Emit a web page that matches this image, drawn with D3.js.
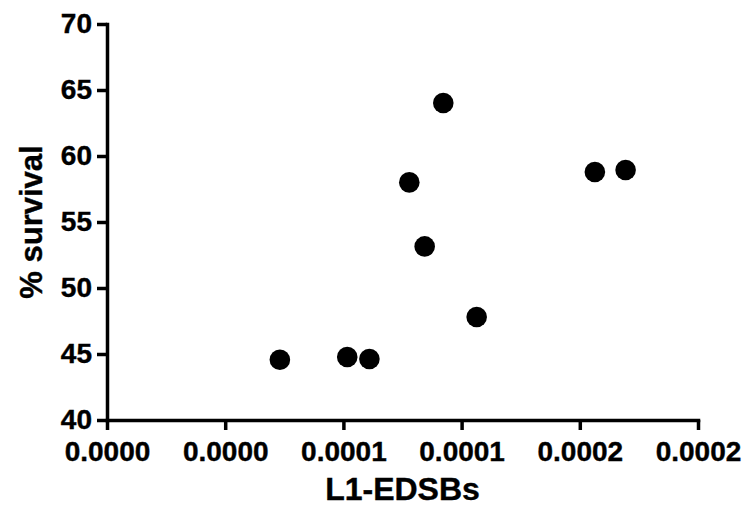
<!DOCTYPE html>
<html>
<head>
<meta charset="utf-8">
<script src="https://cdn.jsdelivr.net/npm/d3@7"></script>
<style>
  html, body { margin: 0; padding: 0; background: #fff; }
  svg { display: block; }
  text { font-family: "Liberation Sans", Arial, Helvetica, sans-serif; font-weight: bold; fill: #000; stroke: #000; stroke-width: 0.4px; }
</style>
</head>
<body>
<svg id="chart" width="746" height="511"></svg>
<script>
// Data
const edsbs = [0.0000585, 0.0000813, 0.0000888, 0.0001023, 0.0001075, 0.0001138, 0.0001251, 0.0001651, 0.0001755];
const survival = [44.57, 44.77, 44.62, 58.0, 53.15, 64.02, 47.8, 58.79, 58.94];
const xTickValues = [0, 0.00004, 0.00008, 0.00012, 0.00016, 0.0002];
const xTickLabels = ["0.0000", "0.0000", "0.0001", "0.0001", "0.0002", "0.0002"];
const yTickValues = [40, 45, 50, 55, 60, 65, 70];
const xTitle = "L1-EDSBs";
const yTitle = "% survival";

const svg = d3.select("#chart");
const plotLeft = 107, plotRight = 698, plotTop = 24, plotBottom = 420;

const x = d3.scaleLinear().domain([0, 0.0002]).range([plotLeft, plotRight]);
const y = d3.scaleLinear().domain([40, 70]).range([plotBottom, plotTop]);

const xAxis = d3.axisBottom(x)
  .tickValues(xTickValues)
  .tickFormat((d, i) => xTickLabels[i])
  .tickSize(10).tickPadding(11).tickSizeOuter(0);
const yAxis = d3.axisLeft(y)
  .tickValues(yTickValues)
  .tickFormat(d3.format("d"))
  .tickSize(10).tickPadding(5).tickSizeOuter(0);

const gx = svg.append("g").attr("transform", `translate(0,${plotBottom})`).call(xAxis);
const gy = svg.append("g").attr("transform", `translate(${plotLeft},0)`).call(yAxis);

[gx, gy].forEach(g => {
  g.select(".domain").attr("stroke", "#000").attr("stroke-width", 3.5).attr("stroke-linecap", "square");
  g.selectAll(".tick line").attr("stroke", "#000").attr("stroke-width", 3.5);
  g.selectAll(".tick text").style("font-size", "28px").style("font-weight", "bold")
    .style("font-family", '"Liberation Sans", Arial, sans-serif').attr("fill", "#000");
});

svg.append("g").selectAll("circle")
  .data(edsbs.map((v, i) => [v, survival[i]]))
  .join("circle")
  .attr("cx", d => x(d[0]))
  .attr("cy", d => y(d[1]))
  .attr("r", 10.3)
  .attr("fill", "#000");

svg.append("text")
  .attr("x", (plotLeft + plotRight) / 2)
  .attr("y", 500)
  .attr("text-anchor", "middle")
  .style("font-size", "32px")
  .text(xTitle);

svg.append("text")
  .attr("transform", `translate(42,${(plotTop + plotBottom) / 2}) rotate(-90)`)
  .attr("text-anchor", "middle")
  .style("font-size", "31px")
  .text(yTitle);
</script>
</body>
</html>
